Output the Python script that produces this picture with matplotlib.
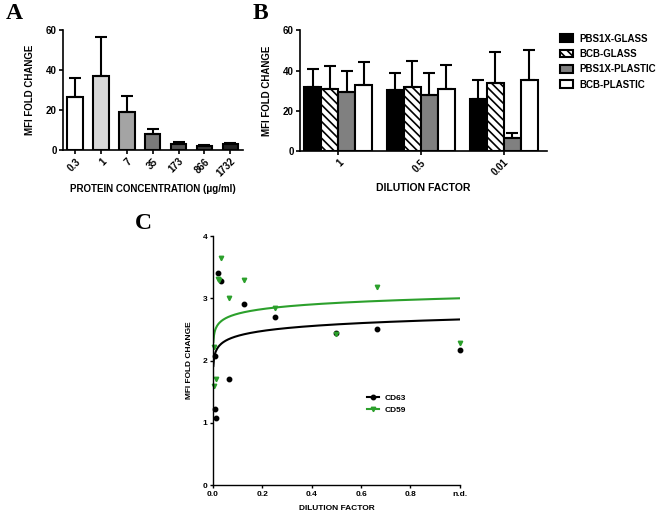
import numpy as np
import matplotlib as mpl
import matplotlib.pyplot as plt
from matplotlib.lines import Line2D
from matplotlib.patches import Patch

mpl.rcParams['font.family'] = ['Liberation Sans', 'DejaVu Sans']
mpl.rcParams['hatch.linewidth'] = 1.2

# Panel A data
conc_labels = ['0.3', '1', '7', '35', '173', '866', '1732']
conc_mean = [26.5, 37.0, 19.0, 8.0, 3.0, 2.0, 2.8]
conc_err = [9.5, 19.5, 8.0, 2.5, 0.8, 0.6, 0.7]
conc_colors = ['#ffffff', '#d8d8d8', '#a4a4a4', '#7a7a7a', '#555555', '#3a3a3a', '#222222']

# Panel B data
dil_labels = ['1', '0.5', '0.01']
series_names = ['PBS1X-GLASS', 'BCB-GLASS', 'PBS1X-PLASTIC', 'BCB-PLASTIC']
pbs_glass = [32.0, 30.5, 26.0]
pbs_glass_err = [9.0, 8.5, 9.5]
bcb_glass = [31.0, 32.0, 34.0]
bcb_glass_err = [11.5, 13.0, 15.0]
pbs_plastic = [29.5, 28.0, 6.5]
pbs_plastic_err = [10.5, 11.0, 2.3]
bcb_plastic = [33.0, 31.0, 35.5]
bcb_plastic_err = [11.5, 12.0, 14.5]

# Panel C data
cd63_x = [0.007, 0.008, 0.0135, 0.02, 0.034, 0.065, 0.127, 0.251, 0.5, 0.665, 1.0]
cd63_y = [2.07, 1.22, 1.07, 3.40, 3.27, 1.70, 2.90, 2.70, 2.45, 2.50, 2.17]
cd59_x = [0.005, 0.005, 0.0135, 0.02, 0.024, 0.034, 0.065, 0.127, 0.251, 0.5, 0.665, 1.0]
cd59_y = [2.21, 1.59, 1.70, 3.31, 3.30, 3.65, 3.00, 3.30, 2.85, 2.43, 3.18, 2.28]
# log fit parameters: y = a + b*ln(x)
cd63_fit = (2.66, 0.115)
cd59_fit = (3.00, 0.108)

green = '#2ca02c'

fig = plt.figure(figsize=(6.6, 5.14), dpi=100)


def style_axes(ax, fs=7, bold=True):
    for s in ['top', 'right']:
        ax.spines[s].set_visible(False)
    for s in ['left', 'bottom']:
        ax.spines[s].set_linewidth(1.2)
    ax.tick_params(direction='out', length=3, width=1.2, labelsize=fs, pad=1.5)
    if bold:
        for lab in ax.get_xticklabels() + ax.get_yticklabels():
            lab.set_fontweight('bold')


# Panel A
axA = fig.add_axes([0.0955, 0.708, 0.273, 0.2335])
xa = np.arange(len(conc_labels))
axA.bar(xa, conc_mean, width=0.6, color=conc_colors, edgecolor='black', linewidth=1.5,
        yerr=[np.zeros(len(conc_err)), conc_err], error_kw=dict(ecolor='black', elinewidth=1.5,
                                                                 capsize=4, capthick=1.5))
axA.set_xlim(-0.47, 6.5)
axA.set_ylim(0, 60)
axA.set_yticks([0, 20, 40, 60])
axA.set_xticks(xa)
axA.set_xticklabels(conc_labels, rotation=45, ha='right', rotation_mode='anchor')
style_axes(axA)
axA.set_ylabel('MFI FOLD CHANGE', fontsize=7, fontweight='bold', labelpad=8)
axA.set_xlabel('PROTEIN CONCENTRATION (\u03bcg/ml)', fontsize=7, fontweight='bold', labelpad=4)

# Panel B
axB = fig.add_axes([0.4545, 0.706, 0.374, 0.235])
xb = np.arange(len(dil_labels))
w = 0.205
vals = [pbs_glass, bcb_glass, pbs_plastic, bcb_plastic]
errs = [pbs_glass_err, bcb_glass_err, pbs_plastic_err, bcb_plastic_err]
faces = ['black', 'white', '#808080', 'white']
hatches = [None, '\\\\\\\\', None, None]
for i in range(4):
    axB.bar(xb + (i - 1.5) * w, vals[i], width=w, color=faces[i], edgecolor='black',
            linewidth=1.5, hatch=hatches[i],
            yerr=[np.zeros(3), errs[i]],
            error_kw=dict(ecolor='black', elinewidth=1.5, capsize=4, capthick=1.5))
axB.set_xlim(-0.46, 2.52)
axB.set_ylim(0, 60)
axB.set_yticks([0, 20, 40, 60])
axB.set_xticks(xb)
axB.set_xticklabels(dil_labels, rotation=45, ha='right', rotation_mode='anchor')
style_axes(axB)
axB.set_ylabel('MFI FOLD CHANGE', fontsize=7, fontweight='bold', labelpad=8)
axB.set_xlabel('DILUTION FACTOR', fontsize=7.5, fontweight='bold', labelpad=4)
handles = [Patch(facecolor=faces[i], edgecolor='black', linewidth=1.5, hatch=hatches[i])
           for i in range(4)]
leg = fig.legend(handles, series_names, loc='upper left', bbox_to_anchor=(0.838, 0.948),
                 frameon=False, prop=dict(size=7, weight='bold'), handlelength=1.4,
                 handleheight=0.8, labelspacing=0.55, handletextpad=0.6,
                 borderpad=0.2)

# Panel C
axC = fig.add_axes([0.3227, 0.0564, 0.374, 0.4844])
xf = np.linspace(0.0015, 1.0, 400)
axC.plot(xf, cd63_fit[0] + cd63_fit[1] * np.log(xf), color='black', lw=1.5)
axC.plot(xf, cd59_fit[0] + cd59_fit[1] * np.log(xf), color=green, lw=1.5)
axC.plot(cd63_x, cd63_y, 'o', color='black', ms=3.2, clip_on=False)
axC.plot(cd59_x, cd59_y, 'v', color=green, ms=3.2, clip_on=False)
axC.set_xlim(0, 1.0)
axC.set_ylim(0, 4)
axC.set_yticks([0, 1, 2, 3, 4])
axC.set_xticks([0, 0.2, 0.4, 0.6, 0.8, 1.0])
axC.set_xticklabels(['0.0', '0.2', '0.4', '0.6', '0.8', 'n.d.'])
style_axes(axC, fs=6)
axC.tick_params(width=1.0, length=2.5)
axC.spines['left'].set_linewidth(1.0)
axC.spines['bottom'].set_linewidth(1.0)
axC.set_ylabel('MFI FOLD CHANGE', fontsize=6, fontweight='bold', labelpad=7)
axC.set_xlabel('DILUTION FACTOR', fontsize=6, fontweight='bold', labelpad=5)
leg_handles = [Line2D([0], [0], color='black', marker='o', ms=3.2, lw=1.5),
               Line2D([0], [0], color=green, marker='v', ms=3.2, lw=1.5)]
axC.legend(leg_handles, ['CD63', 'CD59'], loc='upper left', bbox_to_anchor=(0.6, 0.39),
           frameon=False, prop=dict(size=6, weight='bold'), handlelength=1.5,
           labelspacing=0.6, handletextpad=0.6, borderpad=0.2)

# Panel letters
for x, y, s in [(0.008, 0.995, 'A'), (0.383, 0.995, 'B'), (0.205, 0.585, 'C')]:
    fig.text(x, y, s, fontsize=17, fontweight='bold', family='Liberation Serif', va='top')

fig.savefig('out.png', dpi=100)
